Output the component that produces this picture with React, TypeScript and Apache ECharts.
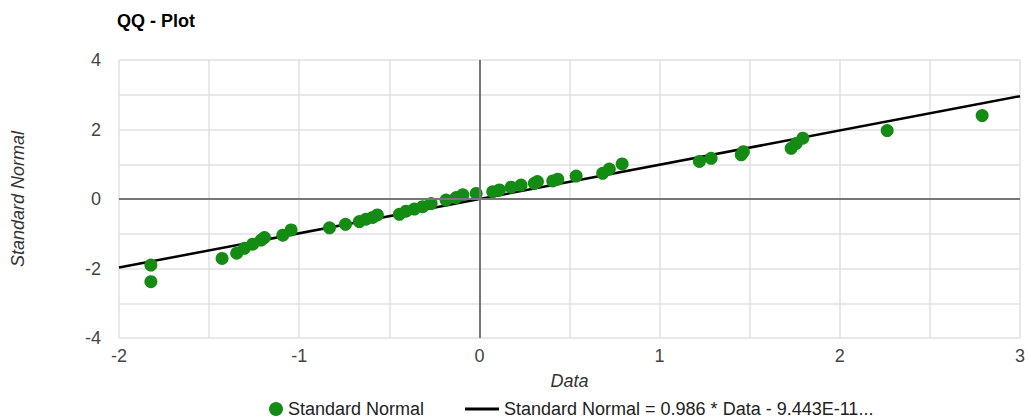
import React, { useEffect, useRef } from "react";
import * as echarts from "echarts";

const dataX = [
  -1.823, -1.823, -1.428, -1.347, -1.304, -1.258, -1.211, -1.193, -1.091, -1.045,
  -0.832, -0.743, -0.666, -0.629, -0.592, -0.566, -0.444, -0.407, -0.361, -0.315,
  -0.268, -0.185, -0.129, -0.092, -0.018, 0.074, 0.111, 0.176, 0.231, 0.305,
  0.322, 0.407, 0.435, 0.537, 0.684, 0.721, 0.792, 1.221, 1.286, 1.453,
  1.465, 1.73, 1.758, 1.795, 2.263, 2.79,
];
const normalY = [
  -2.38, -1.9, -1.71, -1.56, -1.42, -1.3, -1.18, -1.11, -1.04, -0.89,
  -0.83, -0.73, -0.65, -0.58, -0.53, -0.46, -0.44, -0.35, -0.29, -0.22,
  -0.13, -0.03, 0.04, 0.12, 0.16, 0.21, 0.26, 0.34, 0.4, 0.45,
  0.5, 0.52, 0.57, 0.66, 0.74, 0.86, 1.01, 1.08, 1.17, 1.27,
  1.36, 1.46, 1.6, 1.75, 1.97, 2.4,
];
const trendSlope = 0.986;
const trendIntercept = -9.443e-11;
const trendX = [-2, 3];
const xTicks = [-2, -1, 0, 1, 2, 3];
const yTicks = [-4, -2, 0, 2, 4];

const seriesName = "Standard Normal";
const trendName = "Standard Normal = 0.986 * Data - 9.443E-11...";
const FONT = "'Liberation Sans', Arial, sans-serif";

export default function App() {
  const ref = useRef<HTMLDivElement>(null);
  useEffect(() => {
    if (!ref.current) return;
    const chart = echarts.init(ref.current, null, { renderer: "svg" });
    const points = dataX.map((x, i) => [x, normalY[i]]);
    const trend = trendX.map((x) => [x, trendSlope * x + trendIntercept]);
    chart.setOption({
      animation: false,
      textStyle: { fontFamily: FONT },
      title: {
        text: "QQ - Plot",
        left: 112,
        top: 7,
        textStyle: { fontFamily: FONT, fontSize: 18, fontWeight: "bold", color: "#000" },
      },
      grid: { left: 119, right: 9, top: 60, bottom: 81, containLabel: false },
      legend: [
        {
          data: [{ name: seriesName, icon: "circle" }],
          left: 264,
          top: 395,
          itemWidth: 14,
          itemHeight: 14,
          itemGap: 5,
          textStyle: { fontFamily: FONT, fontSize: 18, color: "#222" },
        },
        {
          data: [{ name: trendName, icon: "rect", itemStyle: { color: "#000" } }],
          left: 460,
          top: 395,
          itemWidth: 34,
          itemHeight: 3,
          textStyle: { fontFamily: FONT, fontSize: 18, color: "#222" },
        },
      ],
      xAxis: {
        type: "value",
        min: -2,
        max: 3,
        interval: 0.5,
        name: "Data",
        nameLocation: "middle",
        nameGap: 34,
        nameTextStyle: { fontFamily: FONT, fontSize: 18, fontStyle: "italic", color: "#333" },
        axisLine: { show: false },
        axisTick: { show: false },
        axisLabel: {
          margin: 9,
          fontSize: 18,
          color: "#444",
          fontFamily: FONT,
          formatter: (v: number) => (xTicks.includes(Math.round(v * 100) / 100) ? String(v) : ""),
        },
        splitLine: { show: true, lineStyle: { color: "#e0e0e0", width: 1.5 } },
      },
      yAxis: {
        type: "value",
        min: -4,
        max: 4,
        interval: 1,
        name: "Standard Normal",
        nameLocation: "middle",
        nameGap: 92,
        nameTextStyle: { fontFamily: FONT, fontSize: 18, fontStyle: "italic", color: "#333" },
        axisLine: { show: false },
        axisTick: { show: false },
        axisLabel: {
          margin: 18,
          fontSize: 18,
          color: "#444",
          fontFamily: FONT,
          formatter: (v: number) => (yTicks.includes(v) ? String(v) : ""),
        },
        splitLine: { show: true, lineStyle: { color: "#e0e0e0", width: 1.5 } },
      },
      series: [
        {
          name: trendName,
          type: "line",
          data: trend,
          symbol: "none",
          lineStyle: { color: "#000", width: 2.5 },
          itemStyle: { color: "#000" },
          z: 3,
          markLine: {
            silent: true,
            symbol: "none",
            label: { show: false },
            lineStyle: { color: "#777", width: 2, type: "solid" },
            data: [{ xAxis: 0 }, { yAxis: 0 }],
          },
        },
        {
          name: seriesName,
          type: "scatter",
          data: points,
          symbol: "circle",
          symbolSize: 13,
          itemStyle: { color: "#148c14", opacity: 1 },
          z: 4,
        },
      ],
    });
    return () => chart.dispose();
  }, []);
  return <div ref={ref} style={{ width: 1029, height: 419, position: "absolute", left: 0, top: 0 }} />;
}
